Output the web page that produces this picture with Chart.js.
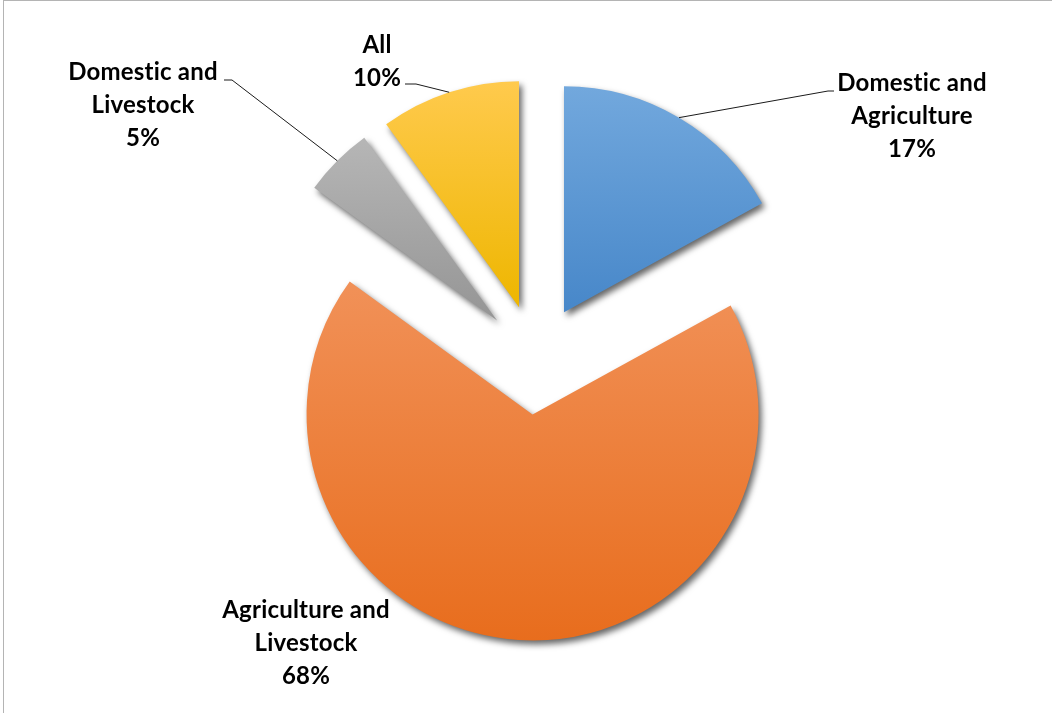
<!DOCTYPE html>
<html>
<head>
<meta charset="utf-8">
<script src="https://cdn.jsdelivr.net/npm/chart.js@4"></script>
<style>
  html, body { margin: 0; padding: 0; background: #fff; }
  #wrap { position: relative; width: 1052px; height: 713px; overflow: hidden; }
  #frame { position: absolute; left: 3px; top: 0; width: 1100px; height: 800px;
           border-left: 1px solid #b4b4b4; border-top: 1px solid #b4b4b4; }
  canvas { position: absolute; left: 0; top: 0; }
</style>
</head>
<body>
<div id="wrap">
  <div id="frame"></div>
  <canvas id="pieChart" width="1052" height="713"></canvas>
</div>
<script>
/*************************************************
 * DATA
 *************************************************/
const categories = ["Domestic and Agriculture", "Agriculture and Livestock", "Domestic and Livestock", "All"];
const shares = [17, 68, 5, 10];

/*************************************************
 * STYLE
 *************************************************/
const topColors    = ["#72a8dd", "#f19158", "#b6b6b6", "#ffca4d"];
const bottomColors = ["#4787c9", "#e86d1d", "#959595", "#eeb600"];
const RADIUS = 226;
const EXPLODE = 55;
const LABEL_FONT = "bold 24px Lato";
const LINE_H = 33;

// label anchors (centre x, first line y) and leader elbows
const labelPos = [
  { x: 912, y: 83, elbow: [828, 91], end: [834, 91] },
  { x: 306, y: 610 },
  { x: 143, y: 72, elbow: [232, 80], end: [224, 80] },
  { x: 377, y: 45, elbow: [416, 84], end: [405, 84] }
];

/*************************************************
 * HELPERS
 *************************************************/
function sliceGradient(context) {
  const chart = context.chart;
  const i = context.dataIndex;
  const area = chart.chartArea;
  if (!area || i === undefined) return topColors[i] || "#ccc";

  const cy = (area.top + area.bottom) / 2;
  const total = shares.reduce((a, b) => a + b, 0);
  const before = shares.slice(0, i).reduce((a, b) => a + b, 0);
  const start = -Math.PI / 2 + 2 * Math.PI * before / total;
  const end = start + 2 * Math.PI * shares[i] / total;

  const s = [0, Math.sin(start), Math.sin(end)];
  const eps = 1e-6;
  [-Math.PI / 2, Math.PI / 2, 3 * Math.PI / 2].forEach(a => {
    if (a >= start - eps && a <= end + eps) s.push(Math.sin(a));
  });
  const top = cy + RADIUS * Math.min(...s);
  const bot = cy + RADIUS * Math.max(...s);

  const g = chart.ctx.createLinearGradient(0, top, 0, bot);
  g.addColorStop(0, topColors[i]);
  g.addColorStop(1, bottomColors[i]);
  return g;
}

const explodePlugin = {
  id: "explode",
  beforeDatasetDraw(chart, args) {
    const ctx = chart.ctx;
    args.meta.data.forEach(arc => {
      const mid = (arc.startAngle + arc.endAngle) / 2;
      ctx.save();
      ctx.translate(Math.cos(mid) * EXPLODE, Math.sin(mid) * EXPLODE);
      ctx.shadowColor = "rgba(0,0,0,0.6)";
      ctx.shadowBlur = 6;
      ctx.shadowOffsetX = 3;
      ctx.shadowOffsetY = 4;
      arc.draw(ctx, chart.chartArea);
      ctx.restore();
    });
    return false;
  }
};

const labelPlugin = {
  id: "pieLabels",
  afterDatasetsDraw(chart) {
    const ctx = chart.ctx;
    const meta = chart.getDatasetMeta(0);
    const total = shares.reduce((a, b) => a + b, 0);

    ctx.save();
    meta.data.forEach((arc, i) => {
      const p = labelPos[i];
      const lines = categories[i].replace(" and ", " and\n").split("\n");
      lines.push(Math.round(shares[i] / total * 100) + "%");

      ctx.font = LABEL_FONT;
      if ("letterSpacing" in ctx) ctx.letterSpacing = "0.2px"; // breaks the "st" ligature
      ctx.fillStyle = "#000";
      ctx.textAlign = "center";
      ctx.textBaseline = "middle";
      lines.forEach((t, k) => ctx.fillText(t, p.x, p.y + k * LINE_H));

      if (p.elbow) {
        const mid = (arc.startAngle + arc.endAngle) / 2;
        const r = arc.outerRadius + EXPLODE;
        ctx.beginPath();
        ctx.moveTo(arc.x + Math.cos(mid) * r, arc.y + Math.sin(mid) * r);
        ctx.lineTo(p.elbow[0], p.elbow[1]);
        ctx.lineTo(p.end[0], p.end[1]);
        ctx.strokeStyle = "#1a1a1a";
        ctx.lineWidth = 1;
        ctx.stroke();
      }
    });
    ctx.restore();
  }
};

/*************************************************
 * CHART
 *************************************************/
new Chart(document.getElementById("pieChart"), {
  type: "pie",
  data: {
    labels: categories,
    datasets: [{
      data: shares,
      backgroundColor: sliceGradient,
      borderWidth: 0
    }]
  },
  options: {
    responsive: false,
    animation: false,
    radius: RADIUS,
    layout: { padding: { left: 20, top: 6 } },
    plugins: {
      legend: { display: false },
      tooltip: { enabled: false }
    }
  },
  plugins: [explodePlugin, labelPlugin]
});
</script>
</body>
</html>
